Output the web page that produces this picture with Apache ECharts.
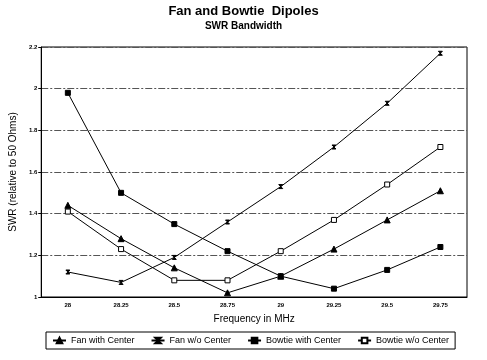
<!DOCTYPE html>
<html><head><meta charset="utf-8">
<script src="https://cdn.jsdelivr.net/npm/echarts@6/dist/echarts.min.js"></script>
<style>html,body{margin:0;padding:0;background:#fff}#c{width:487px;height:360px}</style>
</head><body><div id="c"></div>
<script>
const categories = ['28','28.25','28.5','28.75','29','29.25','29.5','29.75'];
const fanWithCenter = [1.44, 1.28, 1.14, 1.02, 1.10, 1.23, 1.37, 1.51];
const fanWoCenter = [1.12, 1.07, 1.19, 1.36, 1.53, 1.72, 1.93, 2.17];
const bowtieWithCenter = [1.98, 1.50, 1.35, 1.22, 1.10, 1.04, 1.13, 1.24];
const bowtieWoCenter = [1.41, 1.23, 1.08, 1.08, 1.22, 1.37, 1.54, 1.72];
const seriesNames = ['Fan with Center','Fan w/o Center','Bowtie with Center','Bowtie w/o Center'];

const hourglass = 'path://M0,0 L10,0 L0,10 L10,10 Z';
const chart = echarts.init(document.getElementById('c'));
const font = 'Liberation Sans, Arial, sans-serif';
function mk(name, data, symbol, size, fill) {
  return {
    name, type: 'line', data, symbol, symbolSize: size,
    lineStyle: {color: '#000', width: 1},
    itemStyle: {color: fill, borderColor: '#000', borderWidth: 1},
    animation: false
  };
}
chart.setOption({
  backgroundColor: '#fff',
  animation: false,
  title: {
    text: 'Fan and Bowtie  Dipoles', subtext: 'SWR Bandwidth', left: 'center', top: 0, itemGap: 3,
    textStyle: {fontFamily: font, fontSize: 13, fontWeight: 'bold', color: '#000'},
    subtextStyle: {fontFamily: font, fontSize: 10, fontWeight: 'bold', color: '#000'}
  },
  legend: {
    data: seriesNames, bottom: 11, left: 46, itemWidth: 13, itemHeight: 7, itemGap: 16,
    padding: [4, 6], borderColor: '#000', borderWidth: 1,
    textStyle: {fontFamily: font, fontSize: 9, color: '#000'}
  },
  grid: {left: 38, right: 20, top: 47, bottom: 63, show: true, borderColor: '#000', borderWidth: 1, containLabel: false},
  xAxis: {
    type: 'category', data: categories, boundaryGap: true,
    name: 'Frequency in MHz', nameLocation: 'middle', nameGap: 17,
    nameTextStyle: {fontFamily: font, fontSize: 10, color: '#000'},
    axisLine: {lineStyle: {color: '#000'}},
    axisTick: {alignWithLabel: true, length: 3, lineStyle: {color: '#000'}},
    axisLabel: {fontFamily: font, fontSize: 6, fontWeight: 'bold', color: '#000', margin: 5}
  },
  yAxis: {
    type: 'value', min: 1, max: 2.2, interval: 0.2,
    name: 'SWR (relative to 50 Ohms)', nameLocation: 'middle', nameGap: 23, nameRotate: 90,
    nameTextStyle: {fontFamily: font, fontSize: 10, color: '#000'},
    axisLine: {show: true, lineStyle: {color: '#000'}},
    axisTick: {show: true, length: 3, lineStyle: {color: '#000'}},
    axisLabel: {fontFamily: font, fontSize: 6, fontWeight: 'bold', color: '#000', margin: 4},
    splitLine: {lineStyle: {color: '#555', type: [7, 2, 2, 2], width: 1}}
  },
  series: [
    mk(seriesNames[0], fanWithCenter, 'triangle', 6, '#000'),
    mk(seriesNames[1], fanWoCenter, hourglass, 4, '#000'),
    mk(seriesNames[2], bowtieWithCenter, 'rect', 5, '#000'),
    mk(seriesNames[3], bowtieWoCenter, 'rect', 5, '#fff')
  ]
});
</script></body></html>
